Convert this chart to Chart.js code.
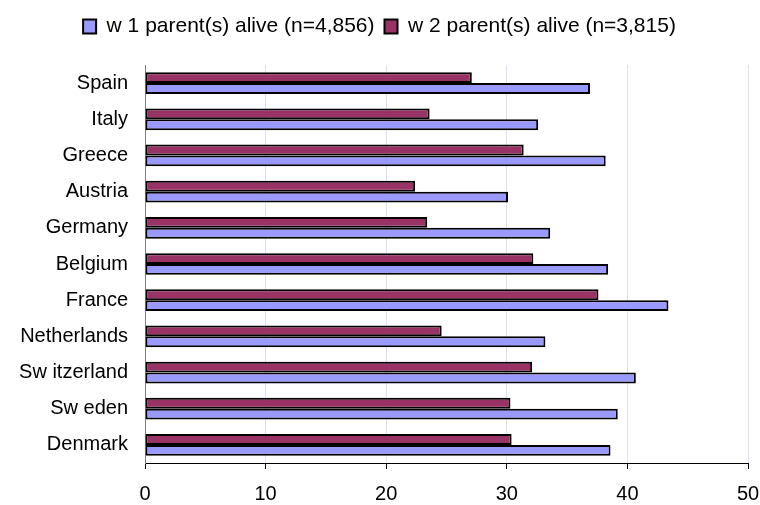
<!DOCTYPE html>
<html>
<head>
<meta charset="utf-8">
<title>Parents alive by country</title>
<script src="https://cdn.jsdelivr.net/npm/chart.js@4/dist/chart.umd.min.js"></script>
<style>
  html, body { margin: 0; padding: 0; background: #ffffff; }
  #wrap { width: 760px; height: 505px; }
</style>
</head>
<body>
<div id="wrap"><canvas id="chart" width="760" height="505"></canvas></div>
<script>
// Countries, listed top to bottom
const countries = ['Spain', 'Italy', 'Greece', 'Austria', 'Germany', 'Belgium', 'France',
  'Netherlands', 'Sw itzerland', 'Sw eden', 'Denmark'];

// Share (%) per country
const oneParentAlive = [36.9, 32.6, 38.2, 30.1, 33.6, 38.4, 43.4, 33.2, 40.7, 39.2, 38.6];
const twoParentsAlive = [27.1, 23.6, 31.4, 22.4, 23.4, 32.2, 37.6, 24.6, 32.1, 30.3, 30.4];

const seriesNames = ['w 1 parent(s) alive (n=4,856)', 'w 2 parent(s) alive (n=3,815)'];

// Value axis
const xMin = 0, xMax = 50, xStep = 10;

const FONT = "'Liberation Sans', Arial, Helvetica, sans-serif";

// Extra room between the legend and the plot area
const legendSpacer = {
  id: 'legendSpacer',
  afterInit(chart) {
    const lg = chart.legend;
    if (!lg) return;
    const fit = lg.fit;
    lg.fit = function () {
      fit.call(this);
      this.height = 59;
    };
  }
};

new Chart(document.getElementById('chart'), {
  type: 'bar',
  data: {
    labels: countries,
    datasets: [
      {
        label: seriesNames[1],
        data: twoParentsAlive,
        backgroundColor: '#993366',
        borderColor: '#000000',
        borderWidth: 2,
        borderSkipped: false
      },
      {
        label: seriesNames[0],
        data: oneParentAlive,
        backgroundColor: '#9999FF',
        borderColor: '#000000',
        borderWidth: 2,
        borderSkipped: false
      }
    ]
  },
  options: {
    indexAxis: 'y',
    responsive: false,
    devicePixelRatio: 1,
    animation: false,
    categoryPercentage: 0.6,
    barPercentage: 1.0,
    layout: { padding: { top: 6, right: 1, bottom: 0, left: 0 } },
    plugins: {
      tooltip: { enabled: false },
      legend: {
        position: 'top',
        align: 'center',
        reverse: true,
        labels: {
          color: '#000000',
          font: { family: FONT, size: 21 },
          boxWidth: 13,
          boxHeight: 14,
          padding: 10
        }
      }
    },
    scales: {
      x: {
        type: 'linear',
        position: 'bottom',
        min: xMin,
        max: xMax,
        ticks: {
          stepSize: xStep,
          color: '#000000',
          font: { family: FONT, size: 20 },
          padding: 13
        },
        grid: {
          color: '#dedefa',
          lineWidth: 1,
          drawTicks: true,
          tickLength: 6,
          tickColor: '#000000'
        },
        border: { display: true, color: '#000000', width: 1 },
        afterFit(scale) {
          scale.height = 42;
          scale.paddingLeft = 0;
          scale.paddingRight = 12;
        }
      },
      y: {
        type: 'category',
        position: 'left',
        ticks: {
          color: '#000000',
          font: { family: FONT, size: 20 },
          padding: 17
        },
        grid: { display: false, drawTicks: false },
        border: { display: true, color: '#808080', width: 1 },
        afterFit(scale) { scale.width = 145; }
      }
    }
  },
  plugins: [legendSpacer]
});
</script>
</body>
</html>
